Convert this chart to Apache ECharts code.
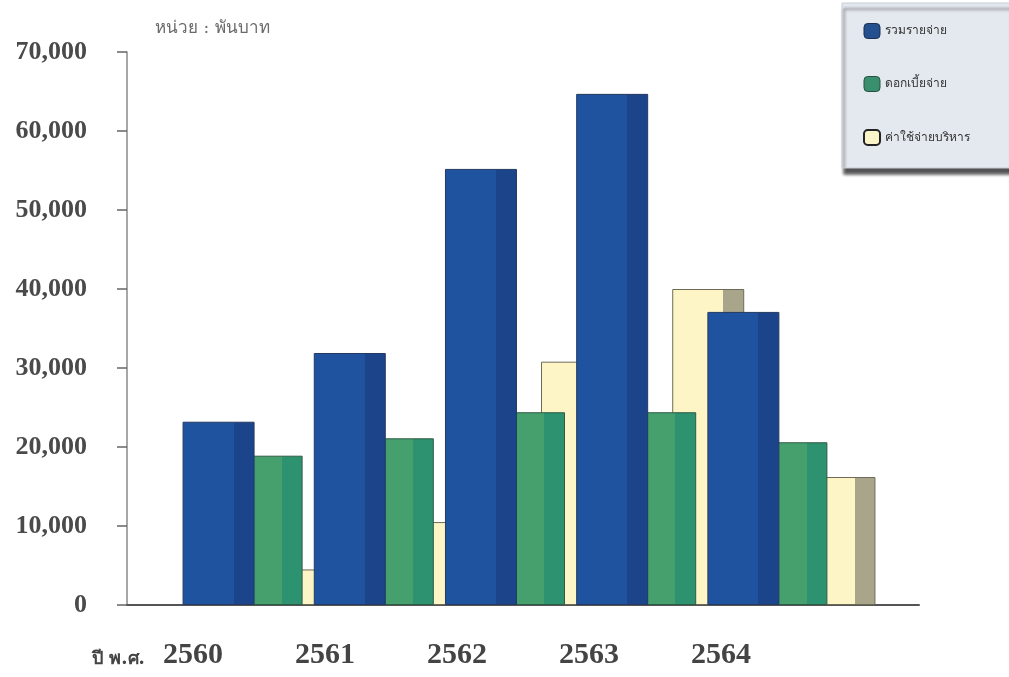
<!DOCTYPE html>
<html>
<head>
<meta charset="utf-8">
<title>รายจ่าย</title>
<script src="https://cdn.jsdelivr.net/npm/echarts@6/dist/echarts.min.js"></script>
<style>
  html, body { margin: 0; padding: 0; background: #fff; }
  #chart { width: 1009px; height: 677px; }
</style>
</head>
<body>
<div id="chart"></div>
<script>
// data (unit: thousand baht)
var years = ['2560', '2561', '2562', '2563', '2564']
var totalExp = [23200, 31900, 55200, 64700, 37100]
var interestExp = [18900, 21100, 24400, 24400, 20600]
var adminExp = [4500, 10500, 30800, 40000, 16200]
var seriesNames = ['รวมรายจ่าย', 'ดอกเบี้ยจ่าย', 'ค่าใช้จ่ายบริหาร']
var axisLabels = years.concat([''])

// face + side look of the old 3d bars
function faceSide(face, side) {
  return {
    type: 'linear', x: 0, y: 0, x2: 1, y2: 0,
    colorStops: [
      { offset: 0, color: face },
      { offset: 0.71, color: face },
      { offset: 0.71, color: side },
      { offset: 1, color: side }
    ]
  }
}

var chart = echarts.init(document.getElementById('chart'))

chart.setOption({
  animation: false,
  backgroundColor: '#fff',
  graphic: [
    {
      type: 'text', left: 155, top: 20,
      style: { text: 'หน่วย : พันบาท', font: '17px "DejaVu Serif", serif', fill: '#6a6a6a' }
    },
    {
      type: 'text', left: 92, top: 650,
      style: { text: 'ปี พ.ศ.', font: 'bold 18px "DejaVu Serif", serif', fill: '#444' }
    }
  ],
  legend: {
    orient: 'vertical',
    left: 842,
    top: 3,
    padding: [20, 40, 22, 21],
    itemWidth: 16,
    itemHeight: 15,
    itemGap: 37,
    itemTextGap: 9,
    backgroundColor: '#e4e8ef',
    borderColor: '#c6ccd5',
    borderWidth: 1,
    shadowColor: 'rgba(40,40,40,0.8)',
    shadowBlur: 3,
    shadowOffsetX: 2,
    shadowOffsetY: 6,
    textStyle: { fontSize: 12, color: '#333', fontFamily: '"DejaVu Sans", sans-serif' },
    data: [
      { name: seriesNames[0], itemStyle: { color: '#24508f', borderColor: '#1c2f50', borderWidth: 1 } },
      { name: seriesNames[1], itemStyle: { color: '#3a8f6e', borderColor: '#24523f', borderWidth: 1 } },
      { name: seriesNames[2], itemStyle: { color: '#fbf4c8', borderColor: '#222', borderWidth: 2 } }
    ]
  },
  grid: [
    { left: 127, right: 90, top: 52, bottom: 72 },
    { left: 201, right: 152, top: 52, bottom: 72 }
  ],
  xAxis: [
    {
      type: 'category',
      gridIndex: 0,
      data: axisLabels,
      boundaryGap: true,
      axisLine: { lineStyle: { color: '#555', width: 2 } },
      axisTick: { length: 12, lineStyle: { color: '#555', width: 1.5 } },
      axisLabel: {
        margin: 35,
        color: '#444',
        fontSize: 30,
        fontWeight: 'bold',
        fontFamily: '"Liberation Serif", serif'
      }
    },
    {
      type: 'category',
      gridIndex: 1,
      data: years,
      show: false
    }
  ],
  yAxis: [
    {
      type: 'value',
      gridIndex: 0,
      min: 0,
      max: 70000,
      interval: 10000,
      splitLine: { show: false },
      axisLine: { show: true, lineStyle: { color: '#8a8a8a', width: 1.5 } },
      axisTick: { show: true, length: 10, lineStyle: { color: '#666', width: 1.5 } },
      axisLabel: {
        margin: 40,
        color: '#4a4a4a',
        fontSize: 26,
        fontWeight: 'bold',
        fontFamily: '"Liberation Serif", serif',
        formatter: function (v) { return v.toLocaleString('en-US') }
      }
    },
    {
      type: 'value',
      gridIndex: 1,
      min: 0,
      max: 70000,
      show: false
    }
  ],
  series: [
    {
      name: seriesNames[0],
      type: 'bar',
      xAxisIndex: 1,
      yAxisIndex: 1,
      clip: false,
      barWidth: 72,
      barGap: '-33.3%',
      z: 4,
      itemStyle: { color: faceSide('#1f53a0', '#1b448a'), borderColor: '#243a60', borderWidth: 1 },
      data: totalExp
    },
    {
      name: seriesNames[1],
      type: 'bar',
      xAxisIndex: 1,
      yAxisIndex: 1,
      clip: false,
      barWidth: 72,
      barGap: '-33.3%',
      z: 3,
      itemStyle: { color: faceSide('#45a06e', '#2c9270'), borderColor: '#2d5c45', borderWidth: 1 },
      data: interestExp
    },
    {
      name: seriesNames[2],
      type: 'bar',
      xAxisIndex: 1,
      yAxisIndex: 1,
      clip: false,
      barWidth: 72,
      barGap: '-33.3%',
      z: 2,
      itemStyle: { color: faceSide('#fdf5c6', '#a8a58a'), borderColor: '#6e6a58', borderWidth: 1 },
      data: adminExp
    }
  ]
})
</script>
</body>
</html>
